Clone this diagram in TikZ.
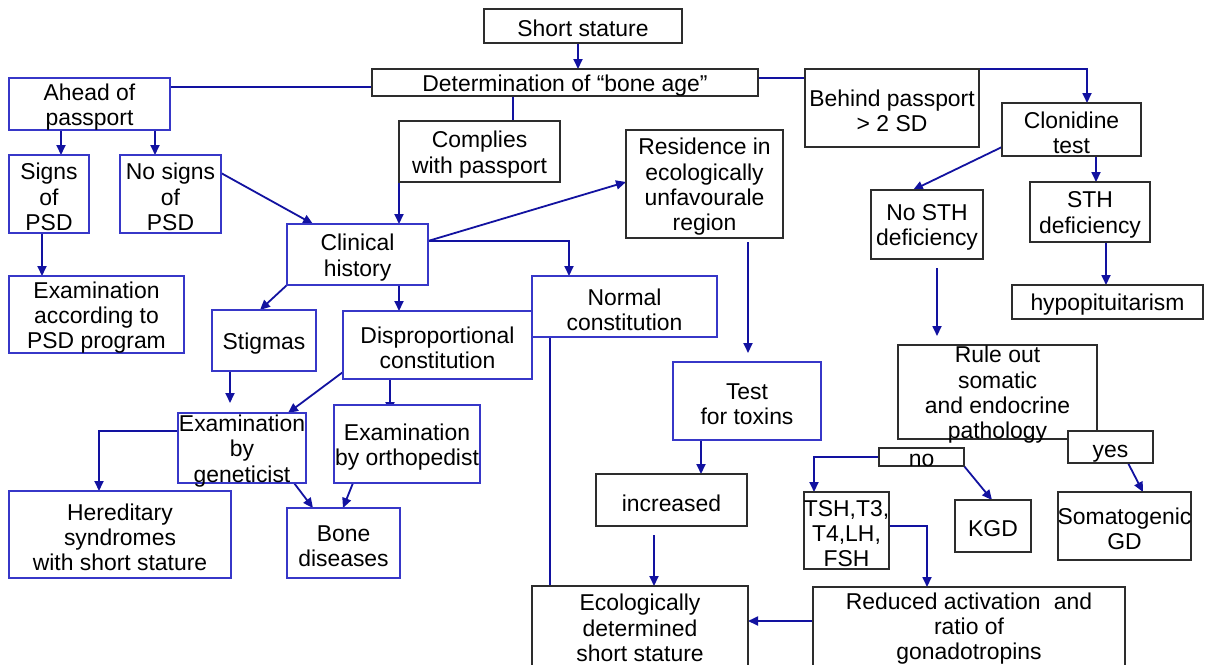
\documentclass[tikz,border=0pt]{standalone}
\usepackage{fontspec}
\setmainfont{Liberation Sans}
\usetikzlibrary{arrows.meta}
\definecolor{bblue}{RGB}{55,55,200}
\definecolor{cblue}{RGB}{18,18,160}
\definecolor{kgray}{RGB}{45,45,45}
\pgfdeclarelayer{bg}
\pgfsetlayers{bg,main}
\tikzset{
 bxs/.style={rectangle, fill=white, line width=1.3pt, inner sep=0pt, outer sep=0pt},
 bb/.style={bxs, draw=bblue},
 kb/.style={bxs, draw=kgray},
 txt/.style={align=center, inner sep=0pt, yshift=-3pt, font=\fontsize{22.9}{25.3}\selectfont, text=black},
 ln/.style={draw=cblue, line width=1.8pt},
 arr/.style={ln, -{Triangle[length=10pt,width=9pt]}},
}
\newcommand\bx[8][]{%
 \node[#7,minimum width={#5-#3},minimum height={#6-#4}] (#2) at ({(#3+#5)/2},{(#4+#6)/2}) {};
 \node[txt,#1] (#2-t) at (#2.center) {#8};}
\begin{document}
\begin{tikzpicture}[x=1pt,y=-1pt]
\useasboundingbox (0,0) rectangle (1206,664);
\begin{pgfonlayer}{bg}
\fill[white] (0,0) rectangle (1206,664);
\end{pgfonlayer}
% boxes
\bx[yshift=0.5pt]{short}{484}{9}{682}{43}{kb}{Short stature}
\bx{det}{372}{69}{758}{96}{kb}{Determination of “bone age”}
\bx{ahead}{9}{78}{170}{130}{bb}{Ahead of\\passport}
\bx{signs}{9}{155}{89}{233}{bb}{Signs\\of\\PSD}
\bx{nosigns}{120}{155}{221}{233}{bb}{No signs\\of\\PSD}
\bx{exampsd}{9}{276}{184}{353}{bb}{Examination\\according to\\PSD program}
\bx{comp}{399}{121}{560}{182}{kb}{Complies\\with passport}
\bx{clin}{287}{224}{428}{285}{bb}{Clinical\\history}
\bx{res}{626}{130}{783}{238}{kb}{Residence in\\ecologically\\unfavourale\\region}
\bx{behind}{805}{69}{979}{147}{kb}{Behind passport\\> 2 SD}
\bx{clon}{1002}{103}{1141}{156}{kb}{Clonidine\\test}
\bx{nosth}{871}{190}{983}{259}{kb}{No STH\\deficiency}
\bx{sth}{1030}{182}{1150}{242}{kb}{STH\\deficiency}
\bx{hyp}{1012}{285}{1203}{319}{kb}{hypopituitarism}
\bx{stig}{212}{310}{316}{371}{bb}{Stigmas}
\bx{disp}{343}{311}{532}{379}{bb}{Disproportional\\constitution}
\bx{normal}{532}{276}{717}{337}{bb}{Normal\\constitution}
\bx{test}{673}{362}{821}{440}{bb}{Test\\for toxins}
\bx{gen}{178}{413}{306}{483}{bb}{Examination\\by\\geneticist}
\bx{orth}{334}{405}{480}{483}{bb}{Examination\\by orthopedist}
\bx{her}{9}{491}{231}{578}{bb}{Hereditary\\syndromes\\with short stature}
\bx{bone}{287}{508}{400}{578}{bb}{Bone\\diseases}
\bx{inc}{596}{474}{747}{526}{kb}{increased}
\bx[yshift=2pt]{eco}{532}{586}{748}{668}{kb}{Ecologically\\determined\\short stature}
\bx{rule}{898}{345}{1097}{439}{kb}{Rule out\\somatic\\and endocrine\\pathology}
\bx{no}{879}{448}{964}{466}{kb}{no}
\bx[yshift=-4pt]{yes}{1068}{431}{1153}{463}{kb}{yes}
\bx{tsh}{804}{492}{889}{569}{kb}{TSH,T3,\\T4,LH,\\FSH}
\bx{kgd}{955}{500}{1031}{552}{kb}{KGD}
\bx{som}{1058}{492}{1191}{560}{kb}{Somatogenic\\GD}
\bx[yshift=2pt]{red}{813}{587}{1125}{668}{kb}{Reduced activation\hspace{0.3em} and\\ratio of\\gonadotropins}
% connectors
\begin{pgfonlayer}{bg}
\draw[arr] (short.south -| 578,0) -- (det.north -| 578,0);
\draw[ln] (det.west |- 0,87) -- (ahead.east |- 0,87);
\draw[arr] (ahead.south -| 61,0) -- (signs.north -| 61,0);
\draw[arr] (ahead.south -| 155,0) -- (nosigns.north -| 155,0);
\draw[arr] (signs.south -| 42,0) -- (exampsd.north -| 42,0);
\draw[arr] (nosigns.east |- 0,173) -- (clin.north -| 313,0);
\draw[ln] (det.south -| 513,0) -- (comp.north -| 513,0);
\draw[arr] (comp.south -| 399,0) -- (clin.north -| 399,0);
\draw[arr] (clin.east |- 0,241) -- (res.west |- 0,182);
\draw[arr] (clin.east |- 0,241) -| (normal.north -| 569,0);
\draw[arr] (clin.south west) -- (stig.north -| 260,0);
\draw[arr] (clin.south -| 399,0) -- (disp.north -| 399,0);
\draw[arr, shorten >=10pt] (stig.south -| 230,0) -- (gen.north -| 230,0);
\draw[arr] (disp.west |- 0,372) -- (gen.north -| 288,0);
\draw[arr, shorten >=-7pt] (disp.south -| 390,0) -- (orth.north -| 390,0);
\draw[arr] (gen.west |- 0,431) -| (her.north -| 99,0);
\draw[arr] (gen.south -| 294,0) -- (bone.north -| 313,0);
\draw[arr] (orth.south -| 353,0) -- (bone.north -| 343,0);
\draw[arr, shorten <=4pt, shorten >=9pt] (res.south -| 748,0) -- (test.north -| 748,0);
\draw[ln] (normal.south -| 550,0) -- (eco.north -| 550,0);
\draw[arr] (test.south -| 701,0) -- (inc.north -| 701,0);
\draw[arr, shorten <=9pt] (inc.south -| 654,0) -- (eco.north -| 654,0);
\draw[arr] (red.west |- 0,621) -- (eco.east |- 0,621);
\draw[arr] (det.east |- 0,78) -- (965,78) -- (965,69) -| (clon.north -| 1087,0);
\draw[arr] (clon.west |- 0,147) -- (nosth.north -| 913,0);
\draw[arr] (clon.south -| 1096,0) -- (sth.north -| 1096,0);
\draw[arr] (sth.south -| 1106,0) -- (hyp.north -| 1106,0);
\draw[arr, shorten <=9pt, shorten >=9pt] (nosth.south -| 937,0) -- (rule.north -| 937,0);
\draw[arr] (no.west) -| (tsh.north -| 814,0);
\draw[arr] (no.south east) -- (kgd.north -| 992,0);
\draw[arr] (yes.south -| 1128,0) -- (som.north -| 1143,0);
\draw[arr] (tsh.east |- 0,526) -| (red.north -| 927,0);
\end{pgfonlayer}
\end{tikzpicture}
\end{document}
